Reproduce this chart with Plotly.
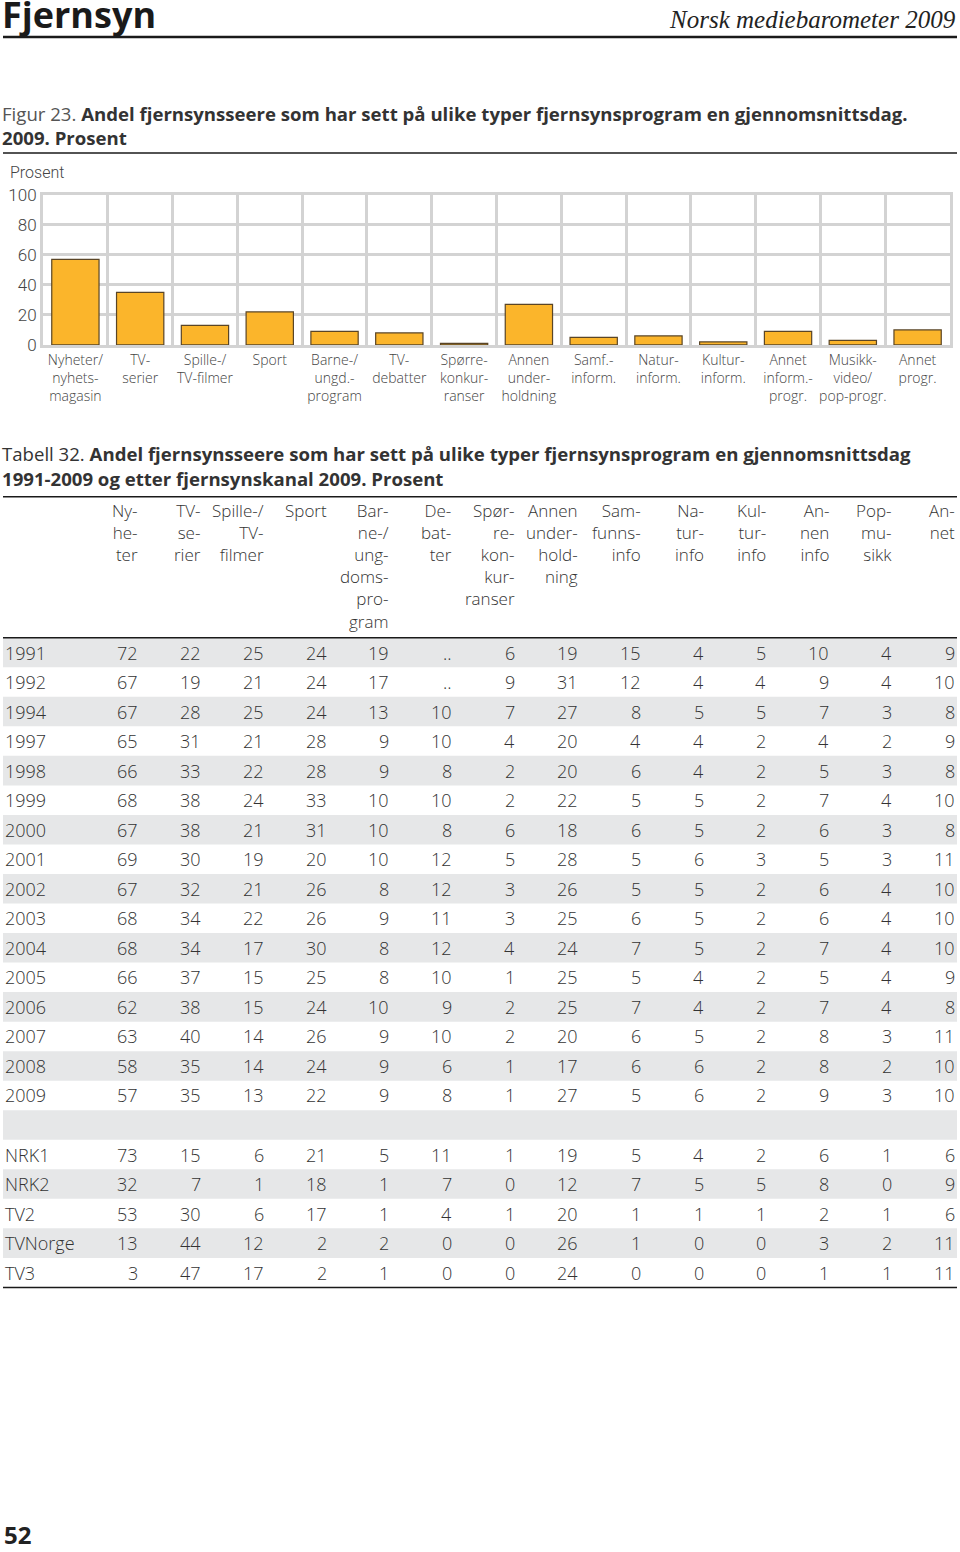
import plotly.graph_objects as go

W, H = 960, 1552

# ---------------- data: figure 23 (2009) ----------------
bar_categories = [
    "Nyheter/<br>nyhets-<br>magasin", "TV-<br>serier", "Spille-/<br>TV-filmer", "Sport",
    "Barne-/<br>ungd.-<br>program", "TV-<br>debatter", "Spørre-<br>konkur-<br>ranser",
    "Annen<br>under-<br>holdning", "Samf.-<br>inform.", "Natur-<br>inform.", "Kultur-<br>inform.",
    "Annet<br>inform.-<br>progr.", "Musikk-<br>video/<br>pop-progr.", "Annet<br>progr.",
]
bar_values_2009 = [57, 35, 13, 22, 9, 8, 1, 27, 5, 6, 2, 9, 3, 10]
y_ticks = [0, 20, 40, 60, 80, 100]

# ---------------- data: table 32 ----------------
table_headers = [
    "Ny-<br>he-<br>ter", "TV-<br>se-<br>rier", "Spille-/<br>TV-<br>filmer", "Sport",
    "Bar-<br>ne-/<br>ung-<br>doms-<br>pro-<br>gram", "De-<br>bat-<br>ter",
    "Spør-<br>re-<br>kon-<br>kur-<br>ranser", "Annen<br>under-<br>hold-<br>ning",
    "Sam-<br>funns-<br>info", "Na-<br>tur-<br>info", "Kul-<br>tur-<br>info",
    "An-<br>nen<br>info", "Pop-<br>mu-<br>sikk", "An-<br>net",
]
year_labels = ["1991", "1992", "1994", "1997", "1998", "1999", "2000", "2001",
               "2002", "2003", "2004", "2005", "2006", "2007", "2008", "2009"]
channel_labels = ["NRK1", "NRK2", "TV2", "TVNorge", "TV3"]

# one list per column: 16 years followed by 5 channels
nyheter      = [72, 67, 67, 65, 66, 68, 67, 69, 67, 68, 68, 66, 62, 63, 58, 57, 73, 32, 53, 13, 3]
tv_serier    = [22, 19, 28, 31, 33, 38, 38, 30, 32, 34, 34, 37, 38, 40, 35, 35, 15, 7, 30, 44, 47]
filmer       = [25, 21, 25, 21, 22, 24, 21, 19, 21, 22, 17, 15, 15, 14, 14, 13, 6, 1, 6, 12, 17]
sport        = [24, 24, 24, 28, 28, 33, 31, 20, 26, 26, 30, 25, 24, 26, 24, 22, 21, 18, 17, 2, 2]
barne        = [19, 17, 13, 9, 9, 10, 10, 10, 8, 9, 8, 8, 10, 9, 9, 9, 5, 1, 1, 2, 1]
debatter     = ["..", "..", 10, 10, 8, 10, 8, 12, 12, 11, 12, 10, 9, 10, 6, 8, 11, 7, 4, 0, 0]
sporre       = [6, 9, 7, 4, 2, 2, 6, 5, 3, 3, 4, 1, 2, 2, 1, 1, 1, 0, 1, 0, 0]
underholdning = [19, 31, 27, 20, 20, 22, 18, 28, 26, 25, 24, 25, 25, 20, 17, 27, 19, 12, 20, 26, 24]
samfunnsinfo = [15, 12, 8, 4, 6, 5, 6, 5, 5, 6, 7, 5, 7, 6, 6, 5, 5, 7, 1, 1, 0]
naturinfo    = [4, 4, 5, 4, 4, 5, 5, 6, 5, 5, 5, 4, 4, 5, 6, 6, 4, 5, 1, 0, 0]
kulturinfo   = [5, 4, 5, 2, 2, 2, 2, 3, 2, 2, 2, 2, 2, 2, 2, 2, 2, 5, 1, 0, 0]
annen_info   = [10, 9, 7, 4, 5, 7, 6, 5, 6, 6, 7, 5, 7, 8, 8, 9, 6, 8, 2, 3, 1]
popmusikk    = [4, 4, 3, 2, 3, 4, 3, 3, 4, 4, 4, 4, 4, 3, 2, 3, 1, 0, 1, 2, 1]
annet        = [9, 10, 8, 9, 8, 10, 8, 11, 10, 10, 10, 9, 8, 11, 10, 10, 6, 9, 6, 11, 11]

value_columns = [nyheter, tv_serier, filmer, sport, barne, debatter, sporre, underholdning,
                 samfunnsinfo, naturinfo, kulturinfo, annen_info, popmusikk, annet]

# ---------------- helpers ----------------
def px(x):
    return x / W

# vertical placement: page position -> layout position (photo shows a slight vertical offset)
def Y(t):
    return (t - 8.95) / 0.9876

def py(y):
    return 1 - y / H

TEXT = "#333333"
LIGHT = "Roboto"
GRID = "#d3d3d3"

fig = go.Figure()

# ---------------- bar chart (x / y) ----------------
fig.add_trace(go.Bar(
    x=bar_categories, y=bar_values_2009,
    marker=dict(color="#FBB52B", line=dict(color="#5a4526", width=1.2)),
    hoverinfo="x+y", showlegend=False,
))

# ---------------- table (x2 = column index, y2 = row index) ----------------
n_years = len(year_labels)
row_labels = year_labels + [""] + channel_labels
table_columns = [col[:n_years] + [""] + col[n_years:] for col in value_columns]
n_rows = len(row_labels)

TABLE_TOP, HEADER_BOTTOM, TABLE_BOTTOM = Y(496), Y(637), Y(1287)
FIRST_RIGHT, LAST_RIGHT, LEFT, RIGHT = 140, 957, 3, 957
col_pitch = (LAST_RIGHT - FIRST_RIGHT) / (len(value_columns) - 1)
row_pitch = (TABLE_BOTTOM - HEADER_BOTTOM) / n_rows

def col_of_px(p):
    return (p - FIRST_RIGHT) / col_pitch + 1

def row_of_px(p):
    return (p - HEADER_BOTTOM) / row_pitch - 0.5

# invisible anchor trace so the table axes exist
fig.add_trace(go.Scatter(x=[1], y=[0], xaxis="x2", yaxis="y2", mode="markers",
                         marker=dict(opacity=0), hoverinfo="skip", showlegend=False))

# alternating row shading
for i in range(0, n_rows, 2):
    fig.add_shape(type="rect", xref="x2", yref="y2", layer="below",
                  x0=col_of_px(LEFT), x1=col_of_px(RIGHT), y0=i - 0.5, y1=i + 0.5,
                  fillcolor="#e6e7e8", line=dict(width=0))

cell_font = dict(family="Open Sans", size=18, color=TEXT, weight=300)
for i, label in enumerate(row_labels):
    if label:
        fig.add_annotation(text=label, x=col_of_px(LEFT), y=i, xref="x2", yref="y2",
                           xanchor="left", yanchor="middle", showarrow=False, font=cell_font)
    for k, col in enumerate(table_columns, start=1):
        v = col[i]
        if v == "":
            continue
        fig.add_annotation(text=str(v), x=k, y=i, xref="x2", yref="y2",
                           xanchor="right", yanchor="middle", showarrow=False, font=cell_font)

for k, head in enumerate(table_headers, start=1):
    fig.add_annotation(text=head, x=k, y=row_of_px(TABLE_TOP - 0.2), xref="x2", yref="y2",
                       xanchor="right", yanchor="top", align="right", showarrow=False,
                       font=dict(family="Open Sans", size=17, color=TEXT, weight=300))

# ---------------- rules ----------------
def hline(y, w):
    fig.add_shape(type="line", xref="paper", yref="paper", x0=px(3), x1=px(957),
                  y0=py(y), y1=py(y), line=dict(color="#1a1a1a", width=w))

hline(Y(36), 2.5)
hline(Y(152), 1.5)
hline(TABLE_TOP, 1.5)
hline(HEADER_BOTTOM, 1.5)
hline(TABLE_BOTTOM, 1.5)

# ---------------- text ----------------
def note(text, x, y, size, family="Open Sans", color=TEXT, xanchor="left", yanchor="middle",
         weight="normal"):
    fig.add_annotation(text=text, x=px(x), y=py(y), xref="paper", yref="paper",
                       xanchor=xanchor, yanchor=yanchor, showarrow=False, align="left",
                       font=dict(family=family, size=size, color=color, weight=weight))

note("<b>Fjernsyn</b>", 0, 5, 36, color="#1a1a1a")
note("<i>Norsk mediebarometer 2009</i>", 958, 10, 25, family="Liberation Serif",
     color="#222222", xanchor="right")
note("<span style='color:#555'>Figur 23.</span> <b>Andel fjernsynsseere som har sett på ulike typer fjernsynsprogram en gjennomsnittsdag.</b>",
     0, Y(113), 18.6)
note("<b>2009. Prosent</b>", 0, Y(137), 18.6)
note("Prosent", 8, Y(172), 16, family=LIGHT, color="#444444", weight=300)
note("Tabell 32. <b>Andel fjernsynsseere som har sett på ulike typer fjernsynsprogram en gjennomsnittsdag</b>",
     0, Y(453), 18.6)
note("<b>1991-2009 og etter fjernsynskanal 2009. Prosent</b>", 0, Y(478), 18.6)
note("<b>52</b>", 2, 1544, 24, color="#222222")

# ---------------- layout ----------------
fig.update_layout(
    width=W, height=H,
    margin=dict(l=0, r=0, t=0, b=0),
    paper_bgcolor="white", plot_bgcolor="rgba(0,0,0,0)",
    bargap=0.27,
    showlegend=False,
    xaxis=dict(
        domain=[px(43), px(950)],
        type="category", tickson="boundaries", tickangle=0,
        showgrid=True, gridcolor=GRID, gridwidth=3,
        showline=True, mirror=True, linecolor=GRID, linewidth=3,
        ticks="", ticklen=0,
        tickfont=dict(family="Open Sans", size=14, color="#444444", weight=300),
        fixedrange=True,
    ),
    yaxis=dict(
        domain=[py(Y(344)), py(Y(194))],
        range=[0, 100], tickvals=y_ticks,
        showgrid=True, gridcolor=GRID, gridwidth=3,
        showline=True, mirror=True, linecolor=GRID, linewidth=3,
        zeroline=False, ticks="",
        tickfont=dict(family=LIGHT, size=17, color="#444444", weight=300),
        fixedrange=True,
    ),
    xaxis2=dict(domain=[0, 1], anchor="y2", type="linear",
                range=[col_of_px(0), col_of_px(W)], visible=False, fixedrange=True),
    yaxis2=dict(domain=[0, 1], anchor="x2", type="linear",
                range=[row_of_px(H), row_of_px(0)], visible=False, fixedrange=True),
)

page_fix = (
    "document.documentElement.style.margin='0';"
    "document.body.style.margin='0';"
    "document.body.style.padding='0';"
)

fig.write_html("out.html", config={"displayModeBar": False}, post_script=page_fix)
